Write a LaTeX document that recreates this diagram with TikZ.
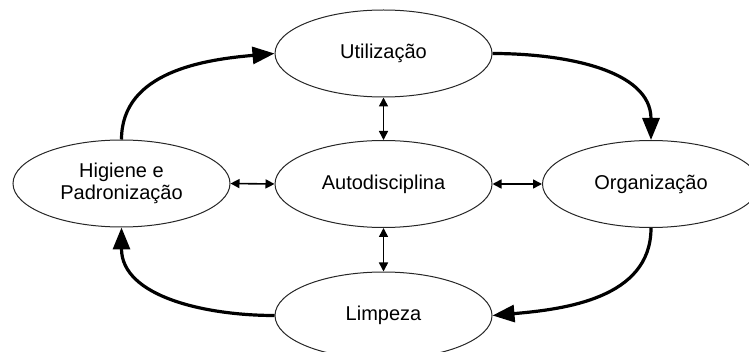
\documentclass[tikz,border=0pt]{standalone}
\usepackage{fontspec}
\setmainfont{Liberation Sans}
\usetikzlibrary{shapes.geometric,arrows.meta}

\begin{document}
\begin{tikzpicture}[x=0.5pt,y=0.5pt]
    \tikzstyle{every node}+=[font=\fontsize{10}{11}\selectfont]
    \tikzstyle{fase}=[draw=black!85,ellipse,line width=0.5pt,inner sep=0pt,minimum width=108.5pt,minimum height=43.5pt,align=center]
    \tikzstyle{ciclo}=[line width=1.6pt,-{Triangle[length=11pt,width=8.5pt]}]
    \tikzstyle{troca}=[line width=0.8pt,{Triangle[length=4.5pt,width=4.5pt]}-{Triangle[length=4.5pt,width=4.5pt]}]
    \useasboundingbox (0,0) rectangle (749,-352);
    \node [fase] (util) at (383.5,-53.5) {Utiliza\c{c}\~ao};
    \node [fase] (auto) at (383.5,-184) {Autodisciplina};
    \node [fase] (hig) at (121.5,-183.5) {Higiene e\\Padroniza\c{c}\~ao};
    \node [fase] (org) at (651,-184) {Organiza\c{c}\~ao};
    \node [fase] (limp) at (383.5,-315.5) {Limpeza};
    \draw [ciclo] (hig.north) to [out=90,in=185] (util.west);
    \draw [ciclo] (util.east) to [out=0,in=90] (org.north);
    \draw [ciclo] (org.south) to [out=-90,in=5] (limp.east);
    \draw [ciclo] (limp.west) to [out=180,in=-90] (hig.south);
    \draw [troca] (util.south) -- (auto.north);
    \draw [troca] (auto.south) -- (limp.north);
    \draw [troca] (hig.east) -- (auto.west);
    \draw [troca] (auto.east) -- (org.west);
\end{tikzpicture}
\end{document}
